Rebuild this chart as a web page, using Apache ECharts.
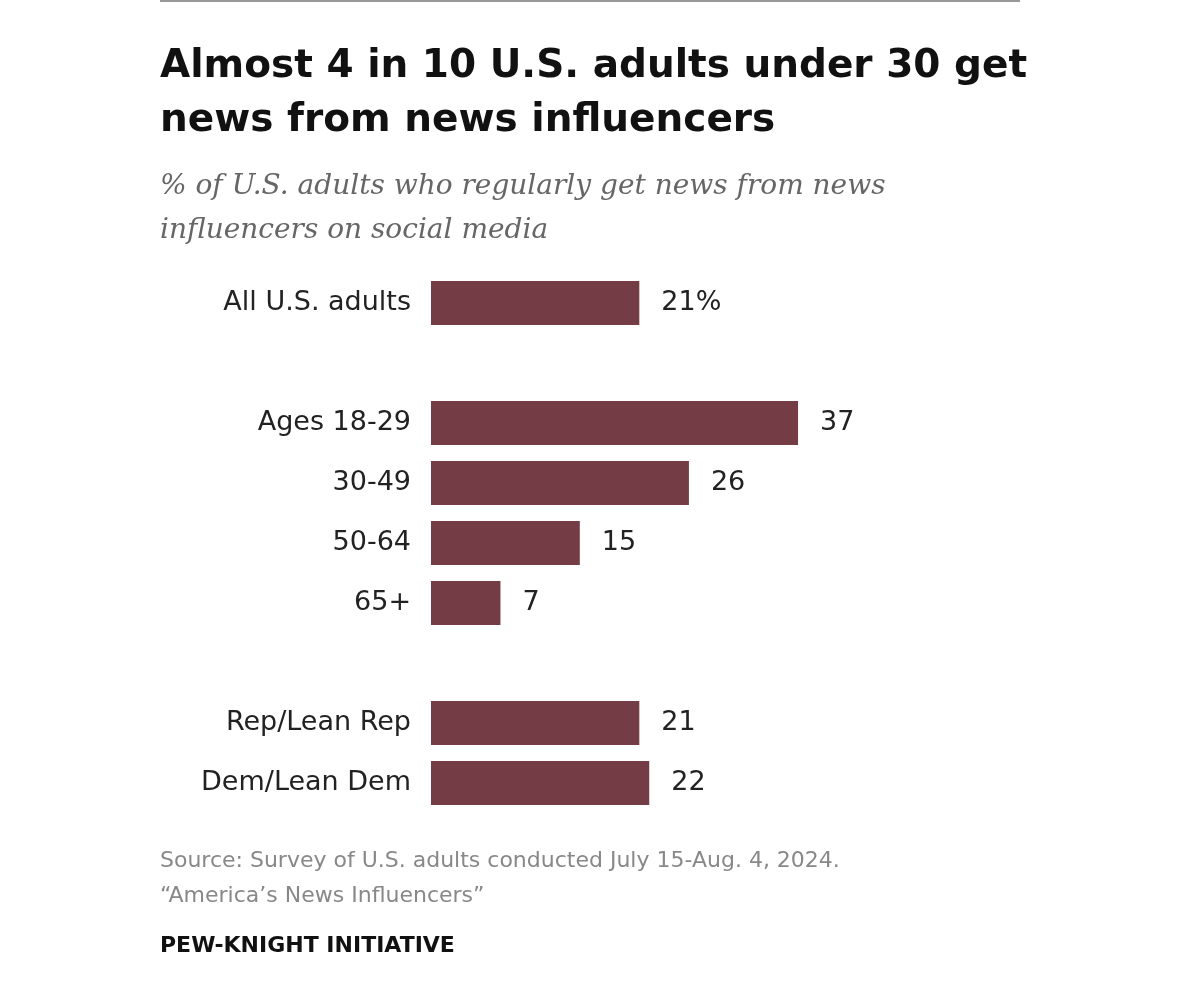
<!DOCTYPE html>
<html><head><meta charset="utf-8">
<script src="https://cdn.jsdelivr.net/npm/echarts@6/dist/echarts.min.js"></script>
<style>html,body{margin:0;padding:0;background:#fff}#c{width:1200px;height:981px}</style>
</head><body><div id="c"></div>
<script>
const categories = ['All U.S. adults', '', 'Ages 18-29', '30-49', '50-64', '65+', '', 'Rep/Lean Rep', 'Dem/Lean Dem'];
const values = [21, null, 37, 26, 15, 7, null, 21, 22];
const barColor = '#743c45';
const chart = echarts.init(document.getElementById('c'));
chart.setOption({
  backgroundColor: '#fff',
  animation: false,
  graphic: [
    {type:'rect', shape:{x:160,y:0,width:860,height:2}, style:{fill:'#999'}},
    {type:'text', left:160, top:40, style:{text:'Almost 4 in 10 U.S. adults under 30 get\nnews from news influencers', font:'bold 39px "DejaVu Sans", sans-serif', fill:'#111', lineHeight:54}},
    {type:'text', left:160, top:165, style:{text:'% of U.S. adults who regularly get news from news\ninfluencers on social media', font:'italic 28px "DejaVu Serif", serif', fill:'#666', lineHeight:44}},
    {type:'text', left:160, top:844, style:{text:'Source: Survey of U.S. adults conducted July 15-Aug. 4, 2024.\n\u201cAmerica\u2019s News Influencers\u201d', font:'22px "DejaVu Sans", sans-serif', fill:'#888', lineHeight:35}},
    {type:'text', left:160, top:935, style:{text:'PEW-KNIGHT INITIATIVE', font:'bold 22px "DejaVu Sans", sans-serif', fill:'#111'}}
  ],
  grid: {left:431, top:273, width:496, height:540, containLabel:false},
  xAxis: {type:'value', min:0, max:50, show:false},
  yAxis: {type:'category', data:categories, inverse:true,
    axisLine:{show:false}, axisTick:{show:false}, splitLine:{show:false},
    axisLabel:{margin:20, fontSize:27, color:'#222', fontFamily:'"DejaVu Sans", sans-serif'}},
  series: [{type:'bar', data:values, barWidth:44, itemStyle:{color:barColor},
    label:{show:true, position:'right', distance:22, fontSize:27, color:'#222',
      fontFamily:'"DejaVu Sans", sans-serif',
      formatter: p => p.dataIndex === 0 ? p.value + '%' : p.value}}]
});
</script></body></html>
